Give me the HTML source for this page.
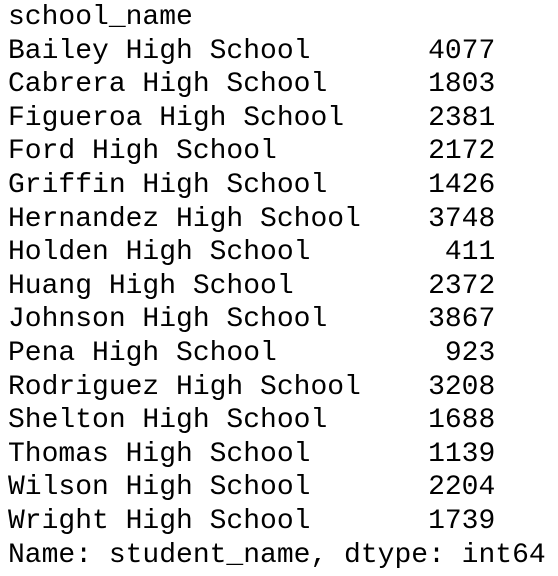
<!DOCTYPE html>
<html>
<head>
<meta charset="utf-8">
<style>
  html, body { margin: 0; padding: 0; background: #ffffff; width: 558px; height: 576px; overflow: hidden; }
  pre {
    margin: 0;
    position: absolute;
    left: 8px;
    top: 1px;
    font-family: "Liberation Mono", "DejaVu Sans Mono", monospace;
    font-size: 28px;
    line-height: 33.6px;
    color: #000000;
  }
</style>
</head>
<body>
<pre><span>school_name</span>
<span>Bailey High School       4077</span>
<span>Cabrera High School      1803</span>
<span>Figueroa High School     2381</span>
<span>Ford High School         2172</span>
<span>Griffin High School      1426</span>
<span>Hernandez High School    3748</span>
<span>Holden High School        411</span>
<span>Huang High School        2372</span>
<span>Johnson High School      3867</span>
<span>Pena High School          923</span>
<span>Rodriguez High School    3208</span>
<span>Shelton High School      1688</span>
<span>Thomas High School       1139</span>
<span>Wilson High School       2204</span>
<span>Wright High School       1739</span>
<span>Name: student_name, dtype: int64</span></pre>
</body>
</html>
